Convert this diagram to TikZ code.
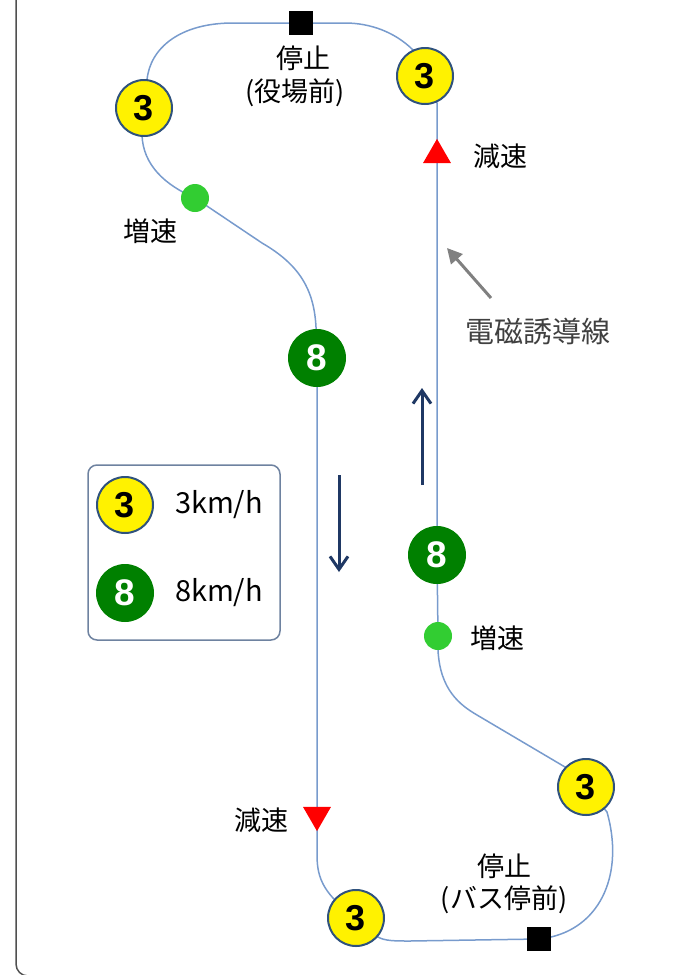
\documentclass[tikz,border=0pt]{standalone}
\usepackage{fontspec}
\setmainfont{Liberation Sans}
\newfontfamily\jp{Noto Sans CJK JP}
\usetikzlibrary{arrows.meta,shapes.geometric,backgrounds}
\definecolor{track}{RGB}{120,155,205}
\definecolor{ring}{RGB}{47,82,125}
\definecolor{fastgreen}{RGB}{0,128,0}
\definecolor{dotgreen}{RGB}{50,205,50}
\definecolor{navyarrow}{RGB}{31,56,100}
\definecolor{legendedge}{RGB}{110,130,160}
\definecolor{framegray}{RGB}{80,80,80}
\definecolor{leadgray}{RGB}{128,128,128}
\definecolor{leadtext}{RGB}{64,64,64}
\begin{document}
\begin{tikzpicture}[x=1pt,y=-1pt,
  slow/.style={circle,draw=ring,line width=2pt,fill=yellow,minimum size=56pt,inner sep=0pt,
    font=\fontsize{36}{36}\selectfont\bfseries},
  fast/.style={circle,fill=fastgreen,minimum size=58pt,inner sep=0pt,text=white,
    font=\fontsize{37}{37}\selectfont\bfseries},
  accel/.style={circle,fill=dotgreen,minimum size=28pt,inner sep=0pt},
  stopsq/.style={rectangle,fill=black,minimum size=24pt,inner sep=0pt},
  decel/.style={regular polygon,regular polygon sides=3,fill=red,minimum size=32.3pt,inner sep=0pt},
  lbl/.style={inner sep=0pt,font=\jp\fontsize{27}{27}\selectfont},
  legtext/.style={inner sep=0pt,font=\jp\fontsize{29}{29}\selectfont},
  trackline/.style={track,line width=1.5pt},
  dirarrow/.style={navyarrow,line width=3pt,-{Straight Barb[length=13pt,width=18pt,line width=3pt]}},
]
\useasboundingbox (0,0) rectangle (686,975);
\clip (0,0) rectangle (686,975);
% frame
\draw[framegray,line width=1.5pt,rounded corners=12pt] (16,-40) rectangle (760,976);

% markers
\node[stopsq] (S1) at (301,23) {};
\node[slow] (C4) at (425,76) {3};
\node[slow] (C1) at (144,108) {3};
\node[accel] (G1) at (195,198) {};
\node[fast] (E1) at (317,358) {8};
\node[decel,shape border rotate=180] (T1) at (317,815) {};
\node[slow] (C2) at (356,918) {3};
\node[stopsq] (S2) at (539,939) {};
\node[slow] (C3) at (586,787) {3};
\node[accel] (G2) at (438,636) {};
\node[fast] (E2) at (437,555) {8};
\node[decel] (T2) at (437,155) {};

% track (behind markers)
\begin{scope}[on background layer]
\draw[trackline]
  (S1.center) -- (233,23) .. controls (180,23) and (150,48) .. (147,80) -- (C1.center)
  -- (142,135) .. controls (143,165) and (165,185) .. (G1.center)
  -- (262,243) .. controls (300,265) and (314,290) .. (316,327) -- (E1.center)
  -- (T1.center) -- (317,855) .. controls (317,880) and (325,895) .. (C2.center)
  -- (378,937) .. controls (385,941) and (395,941) .. (410,941) -- (S2.center)
  -- (551,937) .. controls (602,925) and (624,872) .. (607,812) -- (C3.center)
  -- (565,767) -- (477,715) .. controls (460,705) and (440,690) .. (438,650) -- (G2.center)
  -- (E2.center) -- (T2.center) -- (437,103) -- (C4.center)
  -- (413,50) .. controls (395,32) and (370,23) .. (345,23) -- cycle;
\end{scope}

% labels
\node[lbl] (stop1a) at (303,58) {停止};
\node[lbl] (stop1b) at (295,93) {(役場前)};
\node[lbl] (acc1) at (150,231) {増速};
\node[lbl] (dec2) at (500,156) {減速};
\node[lbl,text=leadtext,font=\jp\fontsize{29}{29}\selectfont] (wire) at (538,331) {電磁誘導線};
\node[lbl] (acc2) at (497,638) {増速};
\node[lbl] (dec1) at (261,820) {減速};
\node[lbl] (stop2a) at (504,866) {停止};
\node[lbl] (stop2b) at (504,900) {(バス停前)};

% lead arrow to the wire
\coordinate (leadstart) at (491,298);
\coordinate (leadend) at (447,248);
\draw[leadgray,line width=3pt,-{Triangle[length=15pt,width=15pt]}] (leadstart) -- (leadend);

% direction arrows
\coordinate (downA) at (339,475);
\coordinate (downB) at (339,572);
\coordinate (upA) at (422,485);
\coordinate (upB) at (422,388);
\draw[dirarrow] (downA) -- (downB);
\draw[dirarrow] (upA) -- (upB);

% legend
\node[draw=legendedge,line width=1.5pt,rounded corners=9pt,minimum width=192pt,minimum height=175pt,inner sep=0pt] (legend) at (184,552.5) {};
\node[slow] (L3) at (125,505) {3};
\node[fast] (L8) at (125,593) {8};
\node[legtext] (L3t) at (219,505) {3km/h};
\node[legtext] (L8t) at (219,593) {8km/h};
\end{tikzpicture}
\end{document}
